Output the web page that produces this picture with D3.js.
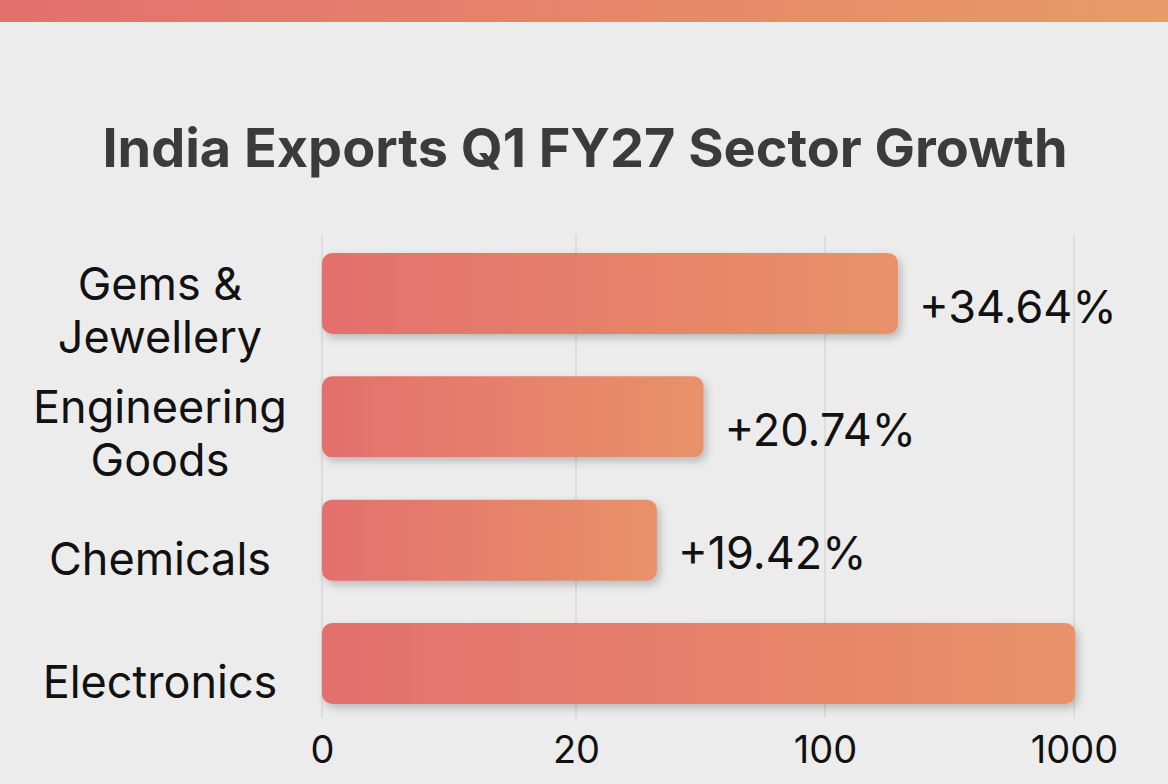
<!DOCTYPE html>
<html>
<head>
<meta charset="utf-8">
<script src="https://cdn.jsdelivr.net/npm/d3@7"></script>
<style>
  html, body { margin: 0; padding: 0; background: #ececec; }
  svg { display: block; }
</style>
</head>
<body>
<div id="chart"></div>
<script>
// India exports Q1 FY27 — sector growth (horizontal bars, odd 0/20/100/1000 axis)
const categories = [["Gems &", "Jewellery"], ["Engineering", "Goods"], ["Chemicals"], ["Electronics"]];
const barValues = [364, 61, 46, 1005];            // in axis units
const valueLabels = ["+34.64%", "+20.74%", "+19.42%", ""];
const tickValues = [0, 20, 100, 1000];
const title = "India Exports Q1 FY27 Sector Growth";

const W = 1168, H = 784;
const svg = d3.select("#chart").append("svg")
  .attr("width", W).attr("height", H);

const defs = svg.append("defs");
const band = defs.append("linearGradient").attr("id", "band");
band.append("stop").attr("offset", "0%").attr("stop-color", "#e46f6e");
band.append("stop").attr("offset", "100%").attr("stop-color", "#e89b68");

const barGrad = defs.append("linearGradient").attr("id", "bar");
barGrad.append("stop").attr("offset", "0%").attr("stop-color", "#e46f6d");
barGrad.append("stop").attr("offset", "100%").attr("stop-color", "#e8926a");

const shadow = defs.append("filter").attr("id", "shadow")
  .attr("x", "-5%").attr("y", "-20%").attr("width", "115%").attr("height", "160%");
shadow.append("feDropShadow")
  .attr("dx", 3).attr("dy", 4).attr("stdDeviation", 4)
  .attr("flood-color", "#000").attr("flood-opacity", 0.22);

svg.append("rect").attr("width", W).attr("height", H).attr("fill", "#ececec");
svg.append("rect").attr("width", W).attr("height", 22).attr("fill", "url(#band)");

svg.append("text")
  .attr("x", 585).attr("y", 167)
  .attr("text-anchor", "middle")
  .attr("font-family", "Inter, Roboto, sans-serif")
  .attr("font-weight", 700)
  .attr("font-size", 54)
  .attr("fill", "#3b3b3b")
  .text(title);

const x = d3.scaleLinear().domain(tickValues).range([322, 576, 825, 1074]);
const y = d3.scaleBand().domain(d3.range(categories.length))
  .range([253, 704]).paddingInner(0.343).paddingOuter(0);

// grid
svg.append("g").selectAll("line")
  .data(tickValues)
  .join("line")
  .attr("x1", d => x(d)).attr("x2", d => x(d))
  .attr("y1", 235).attr("y2", 718)
  .attr("stroke", "#d2d2d2").attr("stroke-width", 1.2);

// bars
svg.append("g").selectAll("rect")
  .data(barValues)
  .join("rect")
  .attr("x", x(0))
  .attr("y", (d, i) => y(i))
  .attr("width", d => x(d) - x(0))
  .attr("height", y.bandwidth())
  .attr("rx", 10)
  .attr("fill", "url(#bar)")
  .attr("filter", "url(#shadow)");

// value labels
svg.append("g").selectAll("text")
  .data(valueLabels)
  .join("text")
  .attr("x", (d, i) => x(barValues[i]) + 21)
  .attr("y", (d, i) => y(i) + y.bandwidth() / 2 + 29)
  .attr("font-family", "Inter, sans-serif")
  .attr("font-size", 45)
  .attr("fill", "#111")
  .text(d => d);

// category labels
const cat = svg.append("g").selectAll("text")
  .data(categories)
  .join("text")
  .attr("text-anchor", "middle")
  .attr("font-family", "Inter, sans-serif")
  .attr("font-size", 45)
  .attr("fill", "#111")
  .attr("x", 160)
  .attr("y", (d, i) => y(i) + y.bandwidth() / 2 + (d.length > 1 ? 6 : 35));
cat.selectAll("tspan")
  .data(d => d)
  .join("tspan")
  .attr("x", 160)
  .attr("dy", (d, i) => i === 0 ? 0 : 53)
  .text(d => d);

// x axis labels
const axis = svg.append("g").attr("transform", "translate(0,763)")
  .call(d3.axisBottom(x).tickValues(tickValues).tickSize(0).tickPadding(0).tickFormat(d3.format("d")));
axis.select(".domain").remove();
axis.selectAll("text")
  .attr("dy", 0)
  .attr("font-family", "Inter, sans-serif")
  .attr("font-size", 38)
  .attr("fill", "#111");
</script>
</body>
</html>
